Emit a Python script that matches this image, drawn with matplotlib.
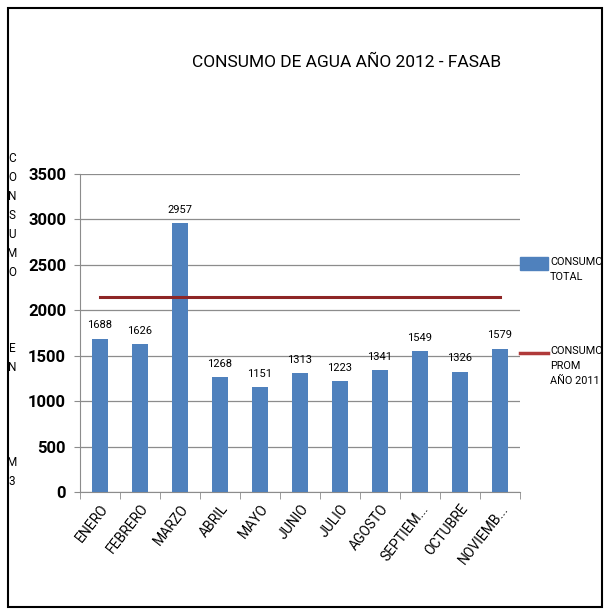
import numpy as np
import matplotlib
matplotlib.use("Agg")
import matplotlib.pyplot as plt
from matplotlib.patches import Rectangle

# datos
meses = ["ENERO", "FEBRERO", "MARZO", "ABRIL", "MAYO", "JUNIO", "JULIO",
         "AGOSTO", "SEPTIEM...", "OCTUBRE", "NOVIEMB..."]
consumo = [1688, 1626, 2957, 1268, 1151, 1313, 1223, 1341, 1549, 1326, 1579]
prom_2011 = 2150

plt.rcParams['font.family'] = ['Roboto', 'DejaVu Sans']

azul = "#4F81BD"
rojo = "#8E2626"

fig = plt.figure(figsize=(6.09, 6.11), dpi=100)
ax = fig.add_axes([80 / 609, 119 / 611, 440 / 609, 318 / 611])

x = np.arange(len(meses))
ax.bar(x, consumo, width=0.38, color=azul, zorder=3)
ax.plot([x[0], x[-1]], [prom_2011, prom_2011], color=rojo, lw=2.2, zorder=4)

for xi, v in zip(x, consumo):
    ax.text(xi, v + 90, str(v), ha="center", va="bottom", fontsize=8)

ax.set_xlim(-0.5, len(meses) - 0.5)
ax.set_ylim(0, 3500)
ax.set_yticks(np.arange(0, 3501, 500))
ax.yaxis.grid(True, color="#8c8c8c", lw=0.9, zorder=0)
ax.tick_params(axis="y", length=4, color="#8c8c8c", labelsize=12, pad=6)
for t in ax.get_yticklabels():
    t.set_fontweight("bold")

ax.set_xticks(x)
ax.set_xticklabels(meses, rotation=52, ha="right", rotation_mode="anchor",
                   fontsize=10)
ax.set_xticks(np.arange(-0.5, len(meses), 1), minor=True)
ax.tick_params(axis="x", which="major", length=0, pad=7)
ax.tick_params(axis="x", which="minor", length=5, color="#8c8c8c")

for s in ["top", "right"]:
    ax.spines[s].set_visible(False)
ax.spines["left"].set_color("#8c8c8c")
ax.spines["bottom"].set_color("#8c8c8c")

fig.text(347 / 609, 1 - 62 / 611, "CONSUMO DE AGUA AÑO 2012 - FASAB",
         ha="center", va="center", fontsize=12.5)

# titulo vertical del eje
letras = "C\nO\nN\nS\nU\nM\nO\n\n\n\nE\nN\n\n\n\n\nM\n3"
fig.text(12 / 609, 1 - 152 / 611, letras, ha="center", va="top",
         fontsize=8.5, linespacing=1.6)

# leyenda
fig.patches.append(Rectangle((520 / 609, 1 - 270 / 611), 28 / 609, 13 / 611,
                             transform=fig.transFigure, color=azul))
fig.text(550 / 609, 1 - 257 / 611, "CONSUMO\nTOTAL", ha="left", va="top",
         fontsize=7.8, linespacing=1.65)
fig.lines.append(plt.Line2D([520 / 609, 548 / 609], [1 - 353 / 611, 1 - 353 / 611],
                            transform=fig.transFigure, color="#B03A3A", lw=2.5))
fig.text(550 / 609, 1 - 346 / 611, "CONSUMO\nPROM\nAÑO 2011", ha="left", va="top",
         fontsize=7.8, linespacing=1.65)

# marco exterior
fig.patches.append(Rectangle((8 / 609, 4 / 611), 594 / 609, 599 / 611,
                             transform=fig.transFigure, fill=False,
                             edgecolor="black", lw=1.5))

fig.savefig("out.png", dpi=100)
